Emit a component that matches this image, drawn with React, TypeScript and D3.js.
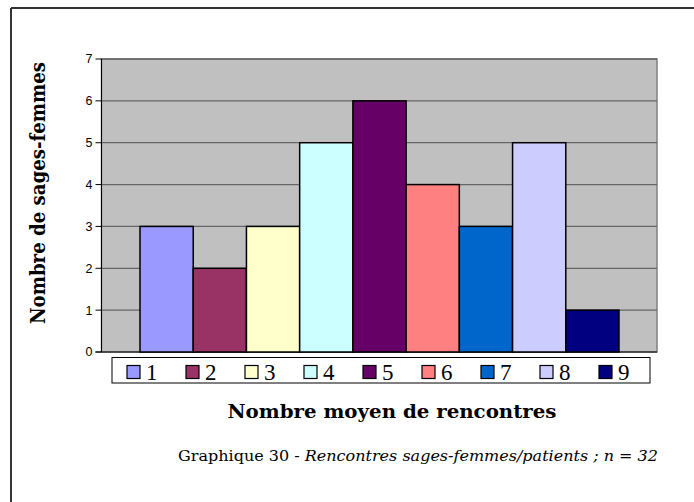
import React from "react";
import * as d3 from "d3";

const categories = ["1", "2", "3", "4", "5", "6", "7", "8", "9"];
const values = [3, 2, 3, 5, 6, 4, 3, 5, 1];
const colors = ["#9999FF", "#993366", "#FFFFCC", "#CCFFFF", "#660066", "#FF8080", "#0066CC", "#CCCCFF", "#000080"];
const yTicks = [0, 1, 2, 3, 4, 5, 6, 7];

export default function App() {
  const W = 694, H = 502;
  const plot = { x0: 101.5, x1: 657, y0: 59, y1: 352 };
  const y = d3.scaleLinear().domain([0, 7]).range([plot.y1, plot.y0]);
  const x = d3.scaleBand().domain(categories).range([140, 619]).paddingInner(0).paddingOuter(0);
  const legendX = d3.scaleBand().domain(categories).range([121, 652]);
  return (
    <svg width={W} height={H} style={{ position: "absolute", left: 0, top: 0, background: "#fff" }}>
      <line x1={11} y1={8} x2={694} y2={8} stroke="#333" strokeWidth={2} />
      <line x1={11} y1={8} x2={11} y2={502} stroke="#333" strokeWidth={2} />
      <rect x={plot.x0} y={plot.y0} width={plot.x1 - plot.x0} height={plot.y1 - plot.y0} fill="#C0C0C0" stroke="#808080" strokeWidth={1.5} />
      {yTicks.map((t) => (
        <g key={t}>
          {t > 0 && <line x1={plot.x0} x2={plot.x1} y1={y(t)} y2={y(t)} stroke="#666" strokeWidth={1.3} />}
          <line x1={plot.x0 - 6} x2={plot.x0} y1={y(t)} y2={y(t)} stroke="#000" strokeWidth={1} />
          <text x={plot.x0 - 9} y={y(t)} dy="0.35em" textAnchor="end" fontFamily="Liberation Sans, Arial" fontSize={12.5}>{t}</text>
        </g>
      ))}
      <line x1={plot.x0} x2={plot.x0} y1={plot.y0} y2={plot.y1} stroke="#000" strokeWidth={1} />
      <line x1={plot.x0 - 6} x2={plot.x1} y1={plot.y1} y2={plot.y1} stroke="#000" strokeWidth={1} />
      {values.map((v, i) => (
        <rect key={i} x={x(categories[i])!} y={y(v)} width={x.bandwidth()} height={y(0) - y(v)} fill={colors[i]} stroke="#000" strokeWidth={1.5} />
      ))}
      <rect x={112} y={357.5} width={538} height={25.5} fill="#fff" stroke="#000" strokeWidth={1} />
      {categories.map((c, i) => (
        <g key={c}>
          <rect x={legendX(c)! + 6} y={365.5} width={13} height={13} fill={colors[i]} stroke="#000" strokeWidth={1.2} />
          <text x={legendX(c)! + 25} y={380} fontFamily="Liberation Serif, serif" fontSize={23}>{c}</text>
        </g>
      ))}
      <text x={392} y={418} textAnchor="middle" fontFamily="DejaVu Serif, serif" fontWeight="bold" fontSize={18} textLength={329} lengthAdjust="spacingAndGlyphs">Nombre moyen de rencontres</text>
      <text transform={`translate(45,${193}) rotate(-90)`} textAnchor="middle" fontFamily="DejaVu Serif, serif" fontWeight="bold" fontSize={19.5} textLength={262} lengthAdjust="spacingAndGlyphs">Nombre de sages-femmes</text>
      <text x={178} y={461} fontFamily="DejaVu Serif, serif" fontSize={15.5} textLength={480} lengthAdjust="spacingAndGlyphs">
        Graphique 30 - <tspan fontStyle="italic">Rencontres sages-femmes/patients ; n = 32</tspan>
      </text>
    </svg>
  );
}
